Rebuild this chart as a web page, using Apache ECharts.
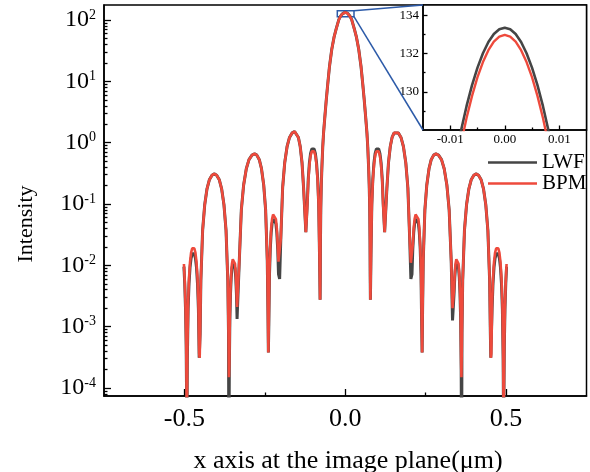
<!DOCTYPE html>
<html><head><meta charset="utf-8">
<script src="https://cdn.jsdelivr.net/npm/echarts@6/dist/echarts.min.js"></script>
<style>html,body{margin:0;padding:0;background:#fff}#main{width:590px;height:472px}</style>
</head><body><div id="main"></div><script>
// x positions (µm)
const xs = [
 -0.5015,-0.4990,-0.4965,-0.4945,-0.4933,-0.4925,
 -0.4919,-0.4909,-0.4885,-0.4857,-0.4825,-0.4793,-0.4757,-0.4725,-0.4693,-0.4657,-0.4625,-0.4593,-0.4565,-0.4541,-0.4525,
 -0.4511,-0.4489,-0.4434,-0.4370,-0.4298,-0.4225,-0.4143,-0.4070,-0.3997,-0.3915,-0.3843,-0.3770,-0.3706,-0.3651,-0.3629,-0.3615,
 -0.3611,-0.3604,-0.3587,-0.3567,-0.3545,-0.3523,-0.3497,-0.3475,-0.3453,-0.3427,-0.3405,-0.3383,-0.3363,-0.3335,
 -0.3294,-0.3231,-0.3159,-0.3076,-0.2993,-0.2900,-0.2817,-0.2749,-0.2672,-0.2604,-0.2535,-0.2475,-0.2424,-0.2403,-0.2390,
 -0.2376,-0.2355,-0.2330,-0.2303,-0.2275,-0.2243,-0.2215,-0.2187,-0.2156,-0.2128,-0.2100,-0.2075,-0.2040,
 -0.2003,-0.1947,-0.1882,-0.1808,-0.1733,-0.1649,-0.1575,-0.1519,-0.1456,-0.1400,-0.1344,-0.1295,-0.1225,
 -0.1181,-0.1150,-0.1114,-0.1079,-0.1039,-0.1004,-0.0968,-0.0928,-0.0893,-0.0857,-0.0826,-0.0800,-0.0782,
 -0.0776,-0.0770,-0.0760,-0.0745,-0.0726,-0.0700,-0.0674,-0.0635,-0.0590,-0.0540,-0.0490,-0.0420,-0.0350,-0.0280,-0.0200,-0.0150,
 -0.0100,-0.0090,-0.0080,-0.0070,-0.0060,-0.0050,-0.0040,-0.0030,-0.0020,-0.0010,0,
 0.0010,0.0020,0.0030,0.0040,0.0050,0.0060,0.0070,0.0080,0.0090,0.0100,
 0.0150,0.0200,0.0280,0.0350,0.0420,0.0490,0.0540,0.0590,0.0635,0.0674,0.0700,0.0726,0.0745,0.0760,0.0770,0.0776,
 0.0782,0.0800,0.0826,0.0857,0.0893,0.0928,0.0968,0.1004,0.1039,0.1079,0.1114,0.1150,0.1181,
 0.1225,0.1295,0.1344,0.1400,0.1456,0.1519,0.1575,0.1649,0.1733,0.1808,0.1882,0.1947,0.2003,
 0.2040,0.2075,0.2100,0.2128,0.2156,0.2187,0.2215,0.2243,0.2275,0.2303,0.2330,0.2355,0.2376,
 0.2390,0.2403,0.2424,0.2475,0.2535,0.2604,0.2672,0.2749,0.2817,0.2900,0.2993,0.3076,0.3159,0.3231,0.3294,
 0.3335,0.3363,0.3383,0.3405,0.3427,0.3453,0.3475,0.3497,0.3523,0.3545,0.3567,0.3587,0.3604,0.3611,
 0.3615,0.3629,0.3651,0.3706,0.3770,0.3843,0.3915,0.3997,0.4070,0.4143,0.4225,0.4298,0.4370,0.4434,0.4489,0.4511,
 0.4525,0.4541,0.4565,0.4593,0.4625,0.4657,0.4693,0.4725,0.4757,0.4793,0.4825,0.4857,0.4885,0.4909,0.4919,
 0.4925,0.4933,0.4945,0.4965,0.4990,0.5015
];
// LWF intensity
const lwf = [
 0.0095,0.0050,0.0019,0.00047,0.00008,1e-6,
 4e-5,2.9e-4,1.94e-3,5.02e-3,9.23e-3,0.01296,0.01539,0.0162,0.01539,0.01296,9.23e-3,5.02e-3,1.94e-3,3.1e-4,3.1e-4,
 7.8e-4,5.6e-3,0.0372,0.0961,0.1767,0.248,0.2945,0.31,0.2945,0.248,0.1767,0.0961,0.0372,5.6e-3,7.8e-4,1e-6,
 2.8e-5,2.0e-4,1.34e-3,3.47e-3,6.38e-3,8.96e-3,0.01064,0.0112,0.01064,8.96e-3,6.38e-3,3.47e-3,1.34e-3,1.26e-3,
 0.0119,0.0792,0.2046,0.3762,0.528,0.627,0.66,0.627,0.528,0.3762,0.2046,0.0792,0.0119,1.65e-3,3.8e-4,
 1.08e-3,7.2e-3,0.0186,0.0342,0.048,0.057,0.060,0.057,0.048,0.0342,0.0186,7.2e-3,6.0e-3,
 0.0274,0.1824,0.4712,0.8664,1.216,1.444,1.52,1.444,1.216,0.8664,0.4712,0.1824,0.0347,
 0.0996,0.2573,0.4731,0.664,0.7885,0.83,0.7885,0.664,0.4731,0.2573,0.0996,0.01494,2.75e-3,
 0.0065,0.026,0.087,0.20,0.40,0.85,1.45,2.6,5.0,9.5,17.5,33,52,72.2,101.6,114.9,
 124.99,126.58,128.0,129.26,130.35,131.27,132.02,132.61,133.03,133.28,133.36,
 133.28,133.03,132.61,132.02,131.27,130.35,129.26,128.0,126.58,124.99,
 114.9,101.6,72.2,52,33,17.5,9.5,5.0,2.6,1.45,0.85,0.40,0.20,0.087,0.026,0.0065,
 2.75e-3,0.01494,0.0996,0.2573,0.4731,0.664,0.7885,0.83,0.7885,0.664,0.4731,0.2573,0.0996,
 0.0347,0.1824,0.4712,0.8664,1.216,1.444,1.52,1.444,1.216,0.8664,0.4712,0.1824,0.0274,
 6.0e-3,7.2e-3,0.0186,0.0342,0.048,0.057,0.060,0.057,0.048,0.0342,0.0186,7.2e-3,1.08e-3,
 3.8e-4,1.65e-3,0.0119,0.0792,0.2046,0.3762,0.528,0.627,0.66,0.627,0.528,0.3762,0.2046,0.0792,0.0119,
 1.26e-3,1.34e-3,3.47e-3,6.38e-3,8.96e-3,0.01064,0.0112,0.01064,8.96e-3,6.38e-3,3.47e-3,1.34e-3,2.0e-4,2.8e-5,
 1e-6,7.8e-4,5.6e-3,0.0372,0.0961,0.1767,0.248,0.2945,0.31,0.2945,0.248,0.1767,0.0961,0.0372,5.6e-3,7.8e-4,
 3.1e-4,3.1e-4,1.94e-3,5.02e-3,9.23e-3,0.01296,0.01539,0.0162,0.01539,0.01296,9.23e-3,5.02e-3,1.94e-3,2.9e-4,4e-5,
 1e-6,0.00008,0.00047,0.0019,0.0050,0.0095
];
// BPM intensity
const bpm = [
 0.0105,0.0055,0.0021,0.00052,0.00009,1e-6,
 5e-5,3.6e-4,2.4e-3,6.2e-3,0.0114,0.016,0.019,0.020,0.019,0.016,0.0114,6.2e-3,2.4e-3,3.6e-4,3.1e-4,
 7.8e-4,5.6e-3,0.0372,0.0961,0.1767,0.248,0.2945,0.31,0.2945,0.248,0.1767,0.0961,0.0372,5.6e-3,7.8e-4,1.5e-4,
 1.5e-4,2.4e-4,1.58e-3,4.09e-3,7.52e-3,0.01056,0.01254,0.0132,0.01254,0.01056,7.52e-3,4.09e-3,2.1e-3,2.0e-3,
 0.0119,0.0792,0.2046,0.3762,0.528,0.627,0.66,0.627,0.528,0.3762,0.2046,0.0792,0.0119,1.65e-3,3.8e-4,
 1.28e-3,8.52e-3,0.022,0.0405,0.0568,0.06745,0.071,0.06745,0.0568,0.0405,0.022,0.0115,0.011,
 0.0274,0.1824,0.4712,0.8664,1.216,1.444,1.52,1.444,1.216,0.8664,0.4712,0.1824,0.0347,
 0.0912,0.2356,0.4332,0.608,0.722,0.76,0.722,0.608,0.4332,0.2356,0.0912,0.01368,2.75e-3,
 0.0065,0.026,0.087,0.20,0.40,0.85,1.45,2.6,5.0,9.5,17.5,33,52,72,101.0,114.3,
 124.13,125.81,127.31,128.64,129.79,130.77,131.56,132.18,132.63,132.89,132.98,
 132.89,132.63,132.18,131.56,130.77,129.79,128.64,127.31,125.81,124.13,
 114.3,101.0,72,52,33,17.5,9.5,5.0,2.6,1.45,0.85,0.40,0.20,0.087,0.026,0.0065,
 2.75e-3,0.01368,0.0912,0.2356,0.4332,0.608,0.722,0.76,0.722,0.608,0.4332,0.2356,0.0912,
 0.0347,0.1824,0.4712,0.8664,1.216,1.444,1.52,1.444,1.216,0.8664,0.4712,0.1824,0.0274,
 0.011,0.0115,0.022,0.0405,0.0568,0.06745,0.071,0.06745,0.0568,0.0405,0.022,8.52e-3,1.28e-3,
 3.8e-4,1.65e-3,0.0119,0.0792,0.2046,0.3762,0.528,0.627,0.66,0.627,0.528,0.3762,0.2046,0.0792,0.0119,
 2.0e-3,2.1e-3,4.09e-3,7.52e-3,0.01056,0.01254,0.0132,0.01254,0.01056,7.52e-3,4.09e-3,1.58e-3,2.4e-4,1.5e-4,
 1.5e-4,7.8e-4,5.6e-3,0.0372,0.0961,0.1767,0.248,0.2945,0.31,0.2945,0.248,0.1767,0.0961,0.0372,5.6e-3,7.8e-4,
 3.1e-4,3.6e-4,2.4e-3,6.2e-3,0.0114,0.016,0.019,0.020,0.019,0.016,0.0114,6.2e-3,2.4e-3,3.6e-4,5e-5,
 1e-6,0.00009,0.00052,0.0021,0.0055,0.0105
];
if (xs.length !== lwf.length || xs.length !== bpm.length) {
  throw new Error('length mismatch ' + xs.length + ' ' + lwf.length + ' ' + bpm.length);
}
const seriesNames = ['LWF', 'BPM'];
const xTickValues = [-0.5, 0, 0.5];
const xMinorValues = [-0.25, 0.25];
const yTickValues = [1e-4, 1e-3, 1e-2, 1e-1, 1, 10, 100];
const insetXTicks = [-0.01, 0, 0.01];
const insetXMinor = [-0.005, 0.005];
const insetYTicks = [130, 132, 134];
const insetYMinor = [129, 131, 133];
const zoomBoxX = [-0.0247, 0.0272];
const zoomBoxY = [113.2, 141.9];
const mainX = [-0.75, 0.75];
const mainY = [7.396e-5, 175.8];
const insetX = [-0.015, 0.015];
const insetY = [128, 134.55];

const yMinorValues = [];
for (let e = -5; e <= 2; e++) for (let m = 2; m <= 9; m++) {
  const v = m * Math.pow(10, e);
  if (v > mainY[0] && v < mainY[1]) yMinorValues.push(v);
}

const F = 'Liberation Serif';
const GRAY = '#454545', RED = '#ee4a3c', BLUE = '#2c5aa8';
const pairs = arr => xs.map((x, i) => [x, arr[i]]);
const lwfData = pairs(lwf), bpmData = pairs(bpm);

const tickStyle = {color: '#000', width: 1.3};
function xAx(grid, range, ticks, len, labels, fmt, fs, margin, lineShow) {
  return {type: 'value', gridIndex: grid, min: range[0], max: range[1], position: 'bottom',
    axisLine: {show: lineShow, onZero: false, lineStyle: {color: '#000', width: 1.5}},
    axisTick: {show: true, inside: true, length: len, customValues: ticks, lineStyle: tickStyle},
    axisLabel: labels ? {show: true, customValues: labels, formatter: fmt, fontFamily: F, fontSize: fs, color: '#000', margin: margin} : {show: false},
    splitLine: {show: false}};
}
function yAx(grid, type, range, ticks, len, labels, extraLabel, lineShow) {
  const ax = {type: type, gridIndex: grid, min: range[0], max: range[1], position: 'left',
    axisLine: {show: lineShow, onZero: false, lineStyle: {color: '#000', width: 1.5}},
    axisTick: {show: true, inside: true, length: len, customValues: ticks, lineStyle: tickStyle},
    axisLabel: labels ? Object.assign({show: true, customValues: labels}, extraLabel) : {show: false},
    splitLine: {show: false}};
  if (type === 'log') ax.logBase = 10;
  return ax;
}
const lineCommon = {type: 'line', symbol: 'none', showSymbol: false, smooth: false};

const chart = echarts.init(document.getElementById('main'));
chart.setOption({
  animation: false,
  backgroundColor: '#fff',
  grid: [
    {left: 104, top: 5, right: 3.5, bottom: 76, show: true, borderColor: '#000', borderWidth: 1.5},
    {left: 423, top: 5, width: 163.5, height: 125, show: true, borderColor: '#000', borderWidth: 1.5, backgroundColor: '#fff'}
  ],
  xAxis: [
    xAx(0, mainX, xTickValues, 7, xTickValues, v => v.toFixed(1), 26, 10, true),
    xAx(0, mainX, xMinorValues, 3.5, null, null, 0, 0, false),
    xAx(1, insetX, insetXTicks, 4.5, insetXTicks, v => v.toFixed(2), 13, 3, true),
    xAx(1, insetX, insetXMinor, 2.5, null, null, 0, 0, false)
  ],
  yAxis: [
    yAx(0, 'log', mainY, yTickValues, 7, yTickValues, {
      margin: 8,
      formatter: v => '{b|10}{s|' + Math.round(Math.log10(v)) + '}',
      rich: {
        b: {fontFamily: F, fontSize: 24, color: '#000', lineHeight: 24},
        s: {fontFamily: F, fontSize: 14, color: '#000', lineHeight: 14, verticalAlign: 'top'}
      }
    }, true),
    yAx(0, 'log', mainY, yMinorValues, 3.5, null, null, false),
    yAx(1, 'value', insetY, insetYTicks, 4.5, insetYTicks, {margin: 4, fontFamily: F, fontSize: 13, color: '#000'}, true),
    yAx(1, 'value', insetY, insetYMinor, 2.5, null, null, false)
  ],
  legend: {
    orient: 'vertical', left: 483, top: 147, itemWidth: 49, itemHeight: 2.5, itemGap: 0, icon: 'rect',
    data: seriesNames,
    textStyle: {fontFamily: F, fontSize: 21, color: '#000', lineHeight: 20}
  },
  series: [
    Object.assign({name: seriesNames[0], xAxisIndex: 0, yAxisIndex: 0, data: lwfData,
     lineStyle: {color: GRAY, width: 3.0}, itemStyle: {color: GRAY}, z: 2}, lineCommon),
    Object.assign({name: seriesNames[1], xAxisIndex: 0, yAxisIndex: 0, data: bpmData,
     lineStyle: {color: RED, width: 2.6}, itemStyle: {color: RED}, z: 3,
     markArea: {silent: true, itemStyle: {color: 'rgba(0,0,0,0)', borderColor: BLUE, borderWidth: 1.5},
       data: [[{coord: [zoomBoxX[0], zoomBoxY[1]]}, {coord: [zoomBoxX[1], zoomBoxY[0]]}]]}}, lineCommon),
    Object.assign({name: seriesNames[0], xAxisIndex: 2, yAxisIndex: 2, data: lwfData,
     lineStyle: {color: GRAY, width: 2.6}, itemStyle: {color: GRAY}, z: 4}, lineCommon),
    Object.assign({name: seriesNames[1], xAxisIndex: 2, yAxisIndex: 2, data: bpmData,
     lineStyle: {color: RED, width: 2.4}, itemStyle: {color: RED}, z: 5}, lineCommon)
  ],
  graphic: [
    {id: 'ytitle', type: 'text', x: 26, y: 224, rotation: Math.PI / 2,
     style: {text: 'Intensity', fontFamily: F, fontSize: 22, fill: '#000', align: 'center', verticalAlign: 'middle'}},
    {id: 'xtitle', type: 'text', x: 348, y: 461,
     style: {text: 'x axis at the image plane(μm)', fontFamily: F, fontSize: 26, fill: '#000', align: 'center', verticalAlign: 'middle'}}
  ]
});
const p1 = chart.convertToPixel({gridIndex: 0}, [zoomBoxX[1], zoomBoxY[1]]);
const p2 = chart.convertToPixel({gridIndex: 0}, [zoomBoxX[1], zoomBoxY[0]]);
const q1 = chart.convertToPixel({gridIndex: 1}, [insetX[0], insetY[1]]);
const q2 = chart.convertToPixel({gridIndex: 1}, [insetX[0], insetY[0]]);
chart.setOption({graphic: [
  {id: 'c1', type: 'line', shape: {x1: p1[0], y1: p1[1], x2: q1[0], y2: q1[1]}, style: {stroke: BLUE, lineWidth: 1.5}, z: 10},
  {id: 'c2', type: 'line', shape: {x1: p2[0], y1: p2[1], x2: q2[0], y2: q2[1]}, style: {stroke: BLUE, lineWidth: 1.5}, z: 10}
]});
</script></body></html>
